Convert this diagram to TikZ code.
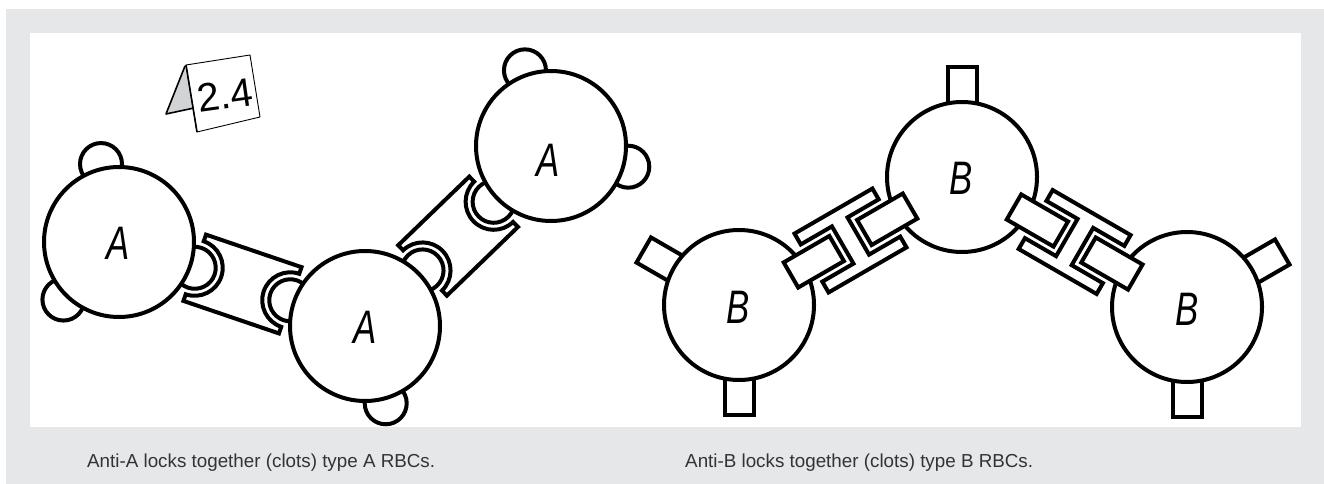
\documentclass[tikz,border=0pt]{standalone}
\usepackage{fontspec}
\setmainfont{Liberation Sans}
\newfontfamily\cellfont[FakeStretch=0.74]{Liberation Sans}
\usetikzlibrary{calc}
\definecolor{framegray}{HTML}{E6E7E8}
\definecolor{tentgray}{HTML}{D1D3D4}

% anti-A antibody: a bar with a cup at each end, #1 = distance between the cell centres
\newcommand\antibodyA[1]{%
  \draw[outline] (80,-35) -- ({#1-80},-35) -- ({#1-80},-28)
    arc[start angle=-90, end angle=-270, radius=28] -- ({#1-80},35)
    -- (80,35) -- (80,28) arc[start angle=90, end angle=-90, radius=28] -- cycle;
}
% A antigens gripped by an anti-A antibody
\newcommand\heldA[1]{%
  \draw[outline] (80,0) circle[radius=21];
  \draw[outline] ({#1-80},0) circle[radius=21];
}
% anti-B antibody: an H-shaped clamp holding one square antigen from each cell
\newcommand\antibodyB[1]{%
  \pgfmathsetmacro\abmid{#1/2}
  \draw[outline] (60,-14.5) rectangle ({\abmid-16},14.5);
  \draw[outline] ({\abmid+16},-14.5) rectangle ({#1-60},14.5);
  \draw[outline] ({\abmid-45},-34) -- ({\abmid+45},-34) -- ({\abmid+45},-21.5) -- ({\abmid+9},-21.5)
    -- ({\abmid+9},21.5) -- ({\abmid+45},21.5) -- ({\abmid+45},34) -- ({\abmid-45},34)
    -- ({\abmid-45},21.5) -- ({\abmid-9},21.5) -- ({\abmid-9},-21.5) -- ({\abmid-45},-21.5) -- cycle;
}

\begin{document}
\begin{tikzpicture}[x=1pt,y=-1pt,
  outline/.style={draw=black, line width=4pt, fill=white},
  celllabel/.style={font=\cellfont\itshape\fontsize{47}{47}\selectfont, inner sep=0pt},
  caption/.style={font=\fontsize{18.8}{22}\selectfont, text=black!80, anchor=base west, inner sep=0pt}]

\useasboundingbox (0,0) rectangle (1324,484);
\fill[framegray] (6,9) rectangle (1324,484);
\fill[white] (30,33) rectangle (1301,427);

% cell centres
\coordinate (cA1) at (119,242);
\coordinate (cA2) at (365,326);
\coordinate (cA3) at (551,146);
\coordinate (cB1) at (739,305);
\coordinate (cB2) at (962,177);
\coordinate (cB3) at (1187,307);

% free A antigens (bumps)
\foreach \c/\a in {cA1/-103, cA1/134, cA2/75, cA3/-109, cA3/15}
  {\draw[outline] ($(\c)+(\a:80)$) circle[radius=21];}

% free B antigens (square tabs)
\foreach \c/\a in {cB1/210, cB1/90, cB2/-90, cB3/-30, cB3/90}
  {\begin{scope}[shift={(\c)}, rotate=-\a]
    \draw[outline] (60,-14.5) rectangle (110,14.5);
  \end{scope}}

% A antigens held by the antibodies
\begin{scope}[shift={(cA1)}, rotate=-18.8] \heldA{260.9} \end{scope}
\begin{scope}[shift={(cA2)}, rotate=44.0] \heldA{258.8} \end{scope}

% red blood cells
\foreach \c in {cA1,cA2,cA3,cB1,cB2,cB3}
  {\draw[outline] (\c) circle[radius=75];}

% antibodies
\begin{scope}[shift={(cA1)}, rotate=-18.8] \antibodyA{260.9} \end{scope}
\begin{scope}[shift={(cA2)}, rotate=44.0] \antibodyA{258.8} \end{scope}
\begin{scope}[shift={(cB1)}, rotate=30.05] \antibodyB{257.6} \end{scope}
\begin{scope}[shift={(cB2)}, rotate=-30.0] \antibodyB{260.1} \end{scope}

% cell labels
\node[celllabel] (lA1) at (118,243) {A};
\node[celllabel] (lA2) at (365,327) {A};
\node[celllabel] (lA3) at (548,160) {A};
\node[celllabel] (lB1) at (738,307) {B};
\node[celllabel] (lB2) at (961,178) {B};
\node[celllabel] (lB3) at (1187,309) {B};

% figure tag (tent card)
\filldraw[fill=tentgray, draw=black, line width=1.6pt, line join=round]
  (185,66) -- (166,114) -- (194,108);
\draw[fill=white, line width=0.9pt, line join=round] (186,65) -- (250,55) -- (260,117) -- (197,132) -- cycle;
\draw[line width=1.6pt] (186,65) -- (197,132);
\node[font=\fontsize{40}{40}\selectfont, rotate=8, inner sep=0pt] (tag) at (225,95) {2.4};

% captions
\node[caption] (capA) at (87,467) {Anti-A locks together (clots) type A RBCs.};
\node[caption] (capB) at (685,467) {Anti-B locks together (clots) type B RBCs.};
\end{tikzpicture}
\end{document}
